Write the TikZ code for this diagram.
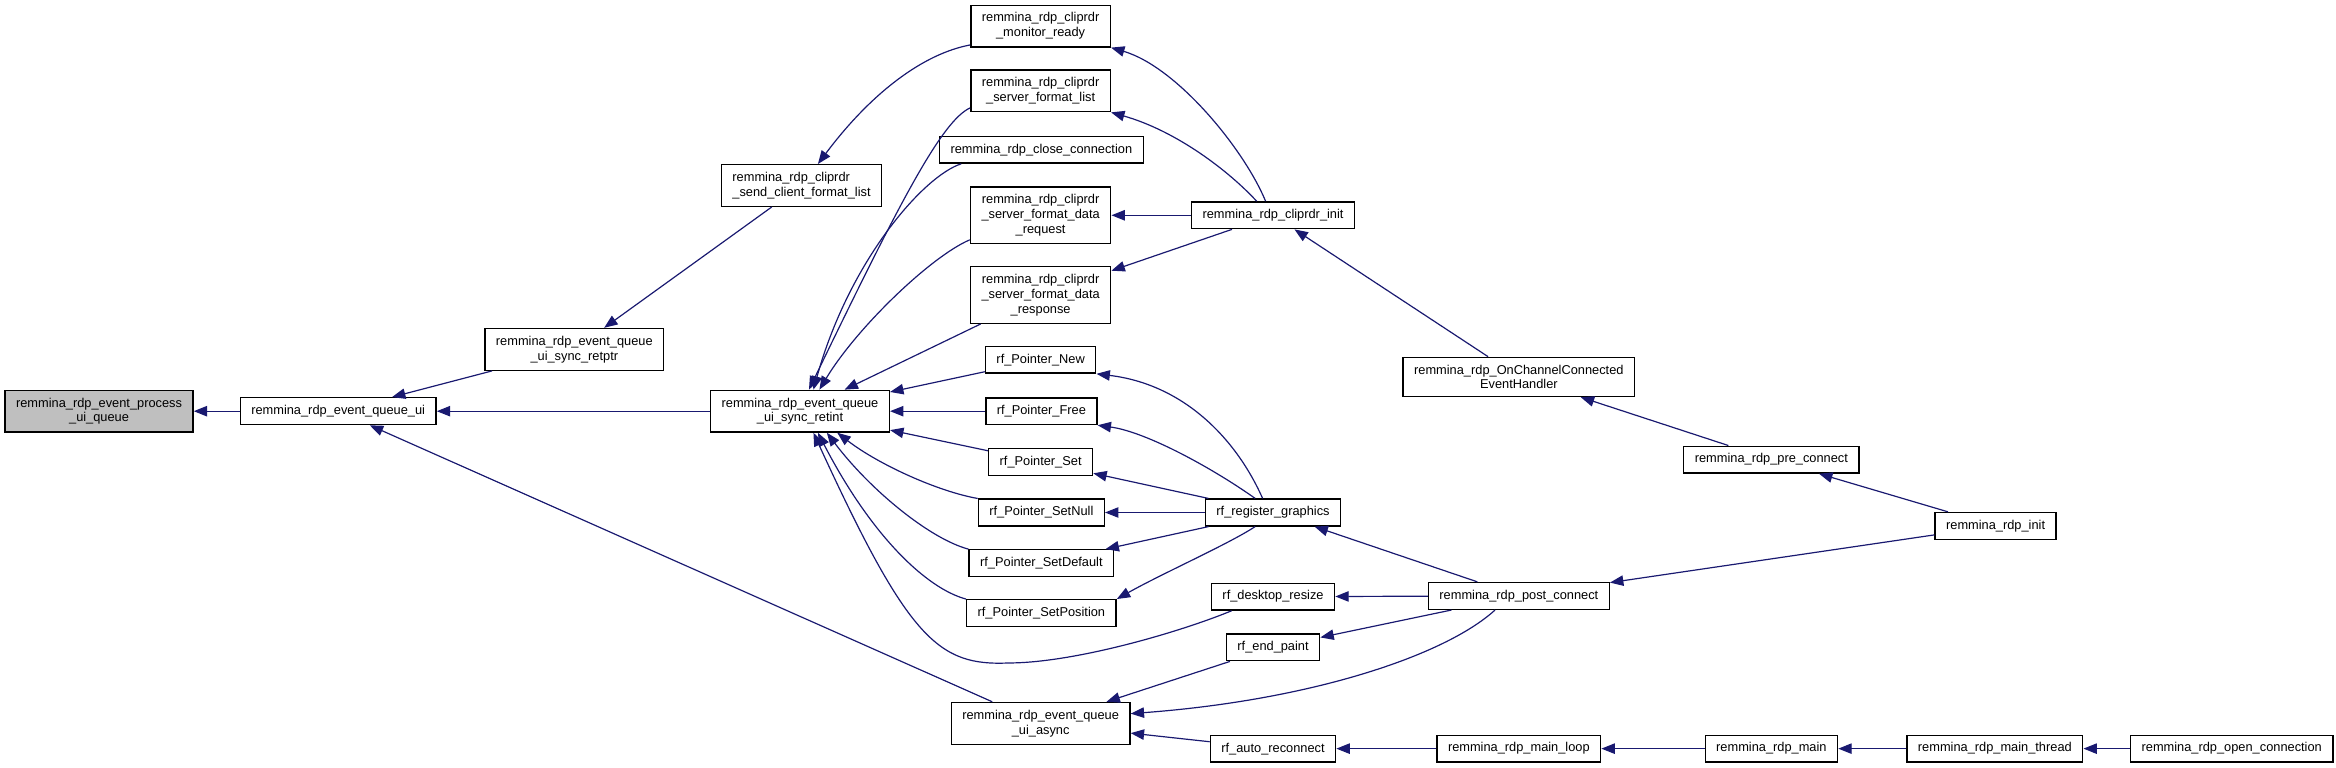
\documentclass[tikz,border=0pt]{standalone}
\usepackage{fontspec}
\setmainfont{Liberation Sans}
\usepackage{xcolor}
\usetikzlibrary{arrows.meta}
\definecolor{edgeblue}{HTML}{191970}
\definecolor{rootgray}{HTML}{BFBFBF}

\begin{document}
\begin{tikzpicture}[x=1pt, y=-1pt,
  fn/.style={draw=black, line width=0.9pt, fill=white, align=center,
    inner xsep=7.4pt, inner ysep=5pt, font=\fontsize{8.6}{10}\selectfont},
  root/.style={fn, fill=rootgray},
  call/.style={draw=edgeblue, line width=0.8pt,
    -{Triangle[length=9pt, width=7pt]}}]

  \useasboundingbox (0,0) rectangle (1568,515);

  % -- the function itself and its direct callers
  \node[root] (proc)    at (66.5,276)  {remmina\_rdp\_event\_process\\\_ui\_queue};
  \node[fn]   (queueui) at (227,276)   {remmina\_rdp\_event\_queue\_ui};
  \node[fn]   (retptr)  at (385.5,234.5) {remmina\_rdp\_event\_queue\\\_ui\_sync\_retptr};
  \node[fn, align=left] (sendfmt) at (538,124.5) {remmina\_rdp\_cliprdr\\\_send\_client\_format\_list};
  \node[fn]   (retint)  at (537,276)   {remmina\_rdp\_event\_queue\\\_ui\_sync\_retint};

  % -- fourth column: everything that ends up in sync_retint, plus async
  \node[fn] (monitor) at (698.5,17.5)  {remmina\_rdp\_cliprdr\\\_monitor\_ready};
  \node[fn] (srvfmt)  at (698.5,61)    {remmina\_rdp\_cliprdr\\\_server\_format\_list};
  \node[fn] (close)   at (699,100.5)   {remmina\_rdp\_close\_connection};
  \node[fn] (fmtreq)  at (698.5,144.5) {remmina\_rdp\_cliprdr\\\_server\_format\_data\\\_request};
  \node[fn] (fmtresp) at (698.5,198)   {remmina\_rdp\_cliprdr\\\_server\_format\_data\\\_response};
  \node[fn] (pnew)    at (698.5,241.5) {rf\_Pointer\_New};
  \node[fn] (pfree)   at (699,276)     {rf\_Pointer\_Free};
  \node[fn] (pset)    at (698.5,310)   {rf\_Pointer\_Set};
  \node[fn] (pnull)   at (699,344)     {rf\_Pointer\_SetNull};
  \node[fn] (pdef)    at (699,378)     {rf\_Pointer\_SetDefault};
  \node[fn] (ppos)    at (699,411.5)   {rf\_Pointer\_SetPosition};
  \node[fn] (async)   at (698.5,485.5) {remmina\_rdp\_event\_queue\\\_ui\_async};

  % -- fifth column
  \node[fn] (clipinit) at (854.5,144.5) {remmina\_rdp\_cliprdr\_init};
  \node[fn] (regg)     at (854.5,344)   {rf\_register\_graphics};
  \node[fn] (resize)   at (854.5,400.5) {rf\_desktop\_resize};
  \node[fn] (endpaint) at (854.5,434.5) {rf\_end\_paint};
  \node[fn] (autorec)  at (854.5,502.5) {rf\_auto\_reconnect};

  % -- the rest, out to the right
  \node[fn] (onchan)     at (1019.5,253)  {remmina\_rdp\_OnChannelConnected\\EventHandler};
  \node[fn] (postconn)   at (1019.5,400)  {remmina\_rdp\_post\_connect};
  \node[fn] (mainloop)   at (1019.5,502.5) {remmina\_rdp\_main\_loop};
  \node[fn] (preconn)    at (1189,308.5)  {remmina\_rdp\_pre\_connect};
  \node[fn] (rdpmain)    at (1189,502.5)  {remmina\_rdp\_main};
  \node[fn] (rdpinit)    at (1339.5,353)  {remmina\_rdp\_init};
  \node[fn] (mainthread) at (1339,502.5)  {remmina\_rdp\_main\_thread};
  \node[fn] (openconn)   at (1498,502.5)  {remmina\_rdp\_open\_connection};

  % -- straight calls, caller first, the tip sits on the callee
  \foreach \src/\dst in {queueui/proc, retptr/queueui, retint/queueui,
      async/queueui, sendfmt/retptr, fmtresp/retint, pnew/retint,
      pfree/retint, pset/retint, clipinit/fmtreq, clipinit/fmtresp,
      onchan/clipinit, regg/pset, regg/pnull, regg/pdef, postconn/regg,
      postconn/resize, postconn/endpaint, endpaint/async, autorec/async,
      mainloop/autorec, preconn/onchan, rdpinit/preconn, rdpinit/postconn,
      rdpmain/mainloop, mainthread/rdpmain, openconn/mainthread}
    \draw[call] (\src) -- (\dst);

  % -- bent calls into sync_retint
  \draw[call] (monitor.195) .. controls (620,36) and (585,62) .. ([xshift=11pt]sendfmt.north);
  \draw[call] ([yshift=3pt]srvfmt.south west) .. controls (632,81) and (603,137.5) .. ([xshift=6pt]retint.north);
  \draw[call] ([xshift=15pt]close.south west) .. controls (620,118) and (570,175) .. ([xshift=9pt]retint.north);
  \draw[call] ([yshift=3pt]fmtreq.south west) .. controls (625,172) and (575,220) .. ([xshift=13pt]retint.north);
  \draw[call] (pnull.north west) .. controls (630,330) and (590,312) .. ([xshift=25pt]retint.south);
  \draw[call] (pdef.north west) .. controls (625,362) and (585,330) .. ([xshift=18pt]retint.south);
  \draw[call] (ppos.north west) .. controls (622,395) and (585,360) .. ([xshift=12pt]retint.south);
  \draw[call] ([xshift=14pt]resize.south west) .. controls (790,425) and (720,445) .. (677,445)
    .. controls (630,447) and (610,430) .. ([xshift=9pt]retint.south);

  % -- bent calls further right
  \draw[call] ([xshift=-5pt]clipinit.north) .. controls (835,100) and (790,45) .. (monitor.south east);
  \draw[call] ([xshift=-11pt]clipinit.north) .. controls (825,115) and (790,88) .. (srvfmt.south east);
  \draw[call] ([xshift=-7pt]regg.north) .. controls (830,295) and (795,258) .. (pnew.south east);
  \draw[call] ([xshift=-12pt]regg.north) .. controls (815,315) and (770,290) .. (pfree.south east);
  \draw[call] ([xshift=-12pt]regg.south) .. controls (825,365) and (780,385) .. (ppos.north east);
  \draw[call] ([xshift=-16pt]postconn.south) .. controls (970,440) and (880,470) .. ([yshift=6.5pt]async.east);

\end{tikzpicture}
\end{document}
